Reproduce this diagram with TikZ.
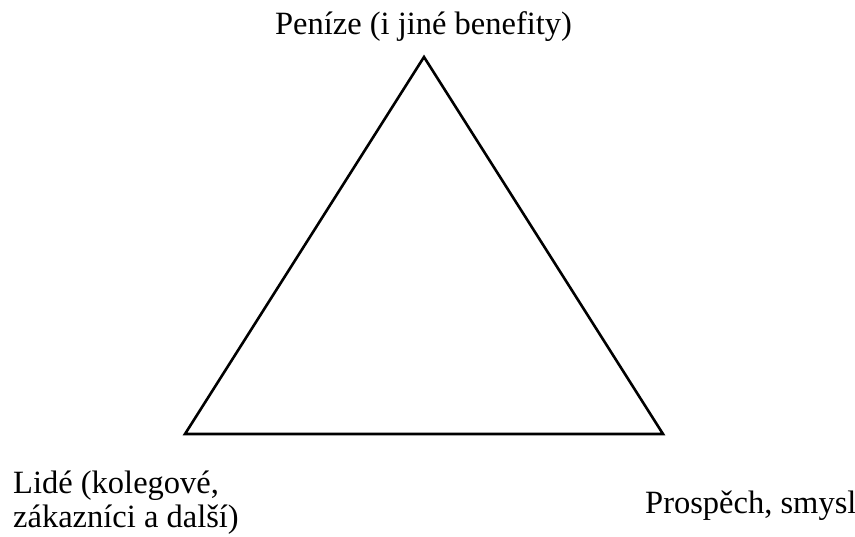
\documentclass[tikz,border=0pt]{standalone}
\usepackage{fontspec}
\setmainfont{Liberation Serif}
\usepackage{tikz}
\usetikzlibrary{positioning}

\begin{document}
\begin{tikzpicture}[
    x=1pt, y=-1pt,
    side/.style={draw=black, line width=2.6pt, line join=miter},
    label/.style={font=\fontsize{32.5}{32}\selectfont, inner sep=0pt, align=left}
]
\useasboundingbox (0,0) rectangle (855,537);
% Corners
\coordinate (top) at (424,57);
\coordinate (left) at (185,434);
\coordinate (right) at (663,434);

% Triangle
\draw[side] (top) -- (left) -- (right) -- cycle;

% Labels
\node[label, anchor=base] (penize) at (423.5,35) {Peníze (i jiné benefity)};
\node[label, anchor=base west] (lide) at (13,528) {Lidé (kolegové,\\[3pt]zákazníci a další)};
\node[label, anchor=base west] (prospech) at (645,513) {Prospěch, smysl};
\end{tikzpicture}
\end{document}
